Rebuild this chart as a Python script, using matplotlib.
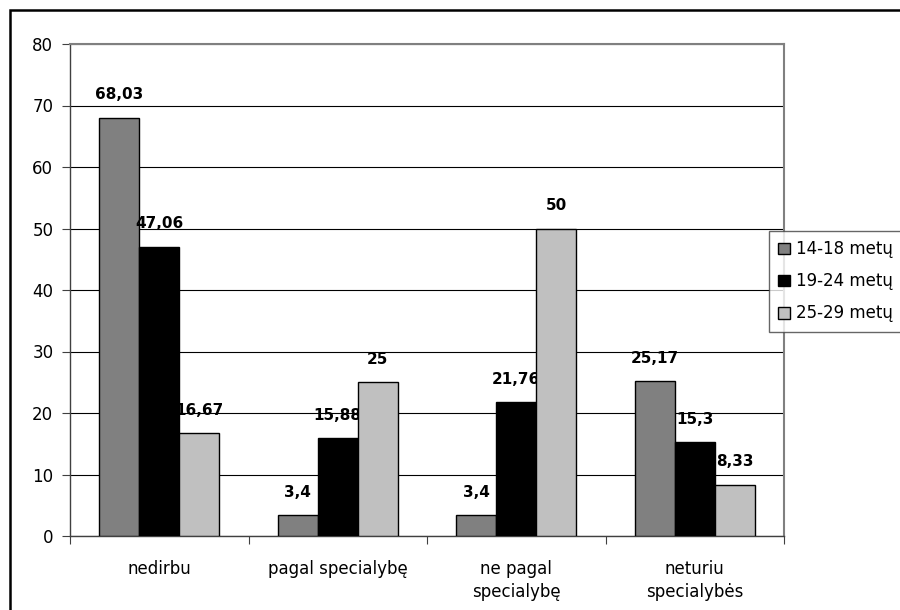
import numpy as np
import matplotlib.pyplot as plt
from matplotlib.patches import Rectangle

plt.rcParams['font.family'] = ['DejaVu Sans']

categories = ['nedirbu', 'pagal specialybę', 'ne pagal\nspecialybę', 'neturiu\nspecialybės']
series = ['14-18 metų', '19-24 metų', '25-29 metų']
v_14_18 = [68.03, 3.4, 3.4, 25.17]
v_19_24 = [47.06, 15.88, 21.76, 15.3]
v_25_29 = [16.67, 25, 50, 8.33]
labels_14_18 = ['68,03', '3,4', '3,4', '25,17']
labels_19_24 = ['47,06', '15,88', '21,76', '15,3']
labels_25_29 = ['16,67', '25', '50', '8,33']

colors = ['#808080', '#000000', '#c0c0c0']

fig = plt.figure(figsize=(9, 6.1), dpi=100)
ax = fig.add_axes([70 / 900, 1 - 536 / 610, (784 - 70) / 900, (536 - 44) / 610])

x = np.arange(len(categories))
w = 0.224
for j, (vals, labs) in enumerate(zip([v_14_18, v_19_24, v_25_29],
                                     [labels_14_18, labels_19_24, labels_25_29])):
    pos = x + (j - 1) * w
    ax.bar(pos, vals, width=w, color=colors[j], edgecolor='black', linewidth=1,
           label=series[j], zorder=3)
    for px, v, t in zip(pos, vals, labs):
        ax.annotate(t, (px, v), xytext=(0, 11), textcoords='offset points',
                    ha='center', va='bottom', fontsize=11, fontweight='bold')

ax.set_xlim(-0.5, 3.5)
ax.set_ylim(0, 80)
ax.set_yticks(np.arange(0, 81, 10))
ax.yaxis.grid(True, color='black', linewidth=0.8, zorder=0)
ax.set_xticks(np.arange(-0.5, 4, 1))
ax.set_xticklabels([])
ax.set_xticks(x, minor=True)
ax.set_xticklabels(categories, minor=True, fontsize=12, linespacing=1.35)
ax.tick_params(axis='x', which='minor', length=0, pad=17)
ax.tick_params(axis='x', which='major', length=6, direction='out', color='#404040')
ax.tick_params(axis='y', length=6, direction='out', labelsize=12, pad=6, color='#404040')

for s in ['top', 'right']:
    ax.spines[s].set_color('#808080')
    ax.spines[s].set_linewidth(1.5)
for s in ['left', 'bottom']:
    ax.spines[s].set_color('#404040')
    ax.spines[s].set_linewidth(1)

leg = fig.legend(loc='upper left', bbox_to_anchor=(769 / 900, 1 - 231 / 610),
                 fontsize=12, frameon=True, fancybox=False, edgecolor='#404040',
                 handlelength=0.7, handleheight=0.7, handletextpad=0.4,
                 labelspacing=0.85, borderpad=0.55, borderaxespad=0)
leg.get_frame().set_linewidth(1)

fig.patches.append(Rectangle((10 / 900, -0.05), 1.1, 1 - 10 / 610 + 0.05,
                             transform=fig.transFigure, fill=False,
                             edgecolor='black', linewidth=1.8))

fig.savefig('out.png', dpi=100)
